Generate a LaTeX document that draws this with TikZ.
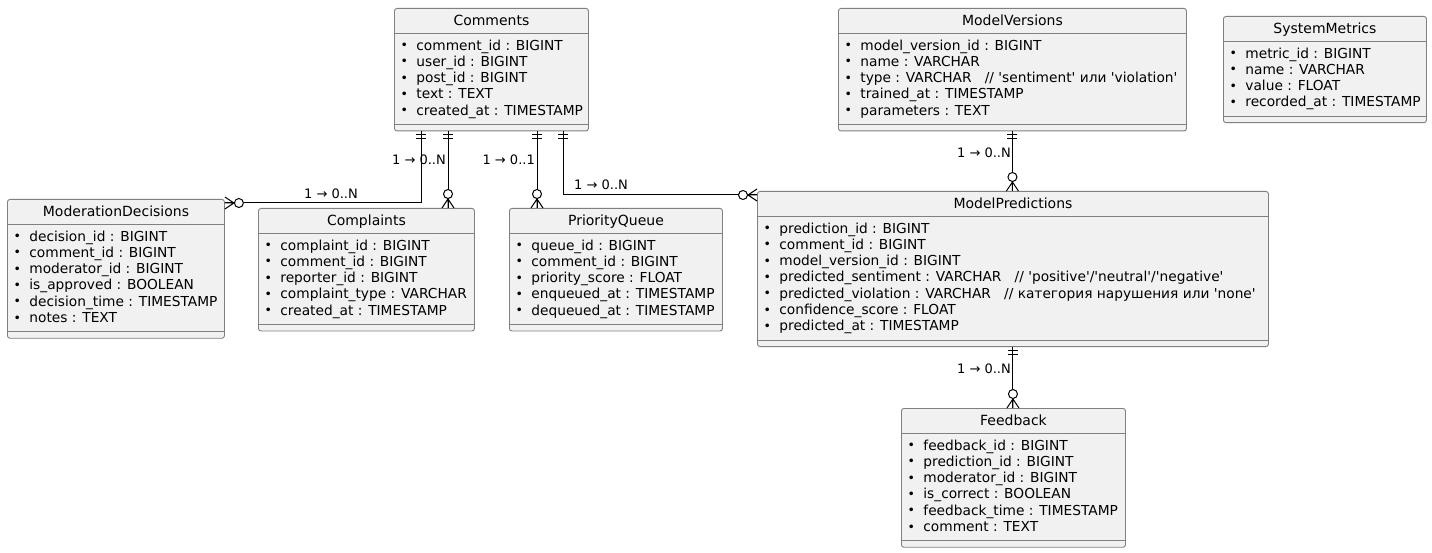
\documentclass[tikz,border=0pt]{standalone}
\usepackage{fontspec}
\setmainfont{DejaVu Sans}
\usepackage{tikz}
\usetikzlibrary{positioning,calc}
\definecolor{entfill}{HTML}{F1F1F1}
\definecolor{entline}{HTML}{808080}
\newcommand{\bl}{\makebox[16.2pt][l]{\hspace{0.4pt}\raisebox{0.4pt}{\fontsize{12.5}{12.5}\selectfont •}}}
\newcommand{\q}{\textquotesingle}
\tikzset{
  entbox/.style={draw=entline,fill=entfill,line width=0.9pt,rounded corners=2.5pt,anchor=north west,inner sep=0pt},
  enttitle/.style={anchor=base,inner sep=0pt,font=\fontsize{14}{16.3}\selectfont},
  attrs/.style={anchor=north west,inner sep=0pt,align=left,font=\fontsize{13.75}{16.3}\selectfont},
  sepline/.style={draw=entline,line width=0.9pt},
  rel/.style={line width=1pt},
  rellabel/.style={inner sep=0pt,font=\fontsize{13}{15}\selectfont},
  onlyone/.pic={\draw[line width=1pt] (3,-5) -- (3,5) (7,-5) -- (7,5);},
  zeromany/.pic={\draw[line width=1pt] (0,-6) -- (9,0) -- (0,6) (0,0) -- (9,0);
    \draw[line width=1pt,fill=white] (14,0) circle (4.5);}
}
\begin{document}
\begin{tikzpicture}[x=1pt,y=-1pt]
\useasboundingbox[fill=white] (0,0) rectangle (1432,553);
\node[entbox,minimum width=194pt,minimum height=122.5pt] (comments) at (394,8) {};
\node[enttitle] (comments-t) at ([yshift=-17.5pt]comments.north) {Comments};
\draw[sepline] ([yshift=-25.5pt]comments.north west) -- ([yshift=-25.5pt]comments.north east);
\node[attrs] (comments-a) at ([xshift=6pt,yshift=-31.4pt]comments.north west) {\bl comment\_id : BIGINT\\\bl user\_id : BIGINT\\\bl post\_id : BIGINT\\\bl text : TEXT\\\bl created\_at : TIMESTAMP};
\draw[sepline] ([yshift=7pt]comments.south west) -- ([yshift=7pt]comments.south east);

\node[entbox,minimum width=348pt,minimum height=122.5pt] (modver) at (838,8) {};
\node[enttitle] (modver-t) at ([yshift=-17.5pt]modver.north) {ModelVersions};
\draw[sepline] ([yshift=-25.5pt]modver.north west) -- ([yshift=-25.5pt]modver.north east);
\node[attrs] (modver-a) at ([xshift=6pt,yshift=-31.4pt]modver.north west) {\bl model\_version\_id : BIGINT\\\bl name : VARCHAR\\\bl type : VARCHAR~~~// \q sentiment\q{} или \q violation\q\\\bl trained\_at : TIMESTAMP\\\bl parameters : TEXT};
\draw[sepline] ([yshift=7pt]modver.south west) -- ([yshift=7pt]modver.south east);

\node[entbox,minimum width=203pt,minimum height=106.2pt] (sysmet) at (1223,16) {};
\node[enttitle] (sysmet-t) at ([yshift=-17.5pt]sysmet.north) {SystemMetrics};
\draw[sepline] ([yshift=-25.5pt]sysmet.north west) -- ([yshift=-25.5pt]sysmet.north east);
\node[attrs] (sysmet-a) at ([xshift=6pt,yshift=-31.4pt]sysmet.north west) {\bl metric\_id : BIGINT\\\bl name : VARCHAR\\\bl value : FLOAT\\\bl recorded\_at : TIMESTAMP};
\draw[sepline] ([yshift=7pt]sysmet.south west) -- ([yshift=7pt]sysmet.south east);

\node[entbox,minimum width=217pt,minimum height=138.8pt] (moddec) at (7,199) {};
\node[enttitle] (moddec-t) at ([yshift=-17.5pt]moddec.north) {ModerationDecisions};
\draw[sepline] ([yshift=-25.5pt]moddec.north west) -- ([yshift=-25.5pt]moddec.north east);
\node[attrs] (moddec-a) at ([xshift=6pt,yshift=-31.4pt]moddec.north west) {\bl decision\_id : BIGINT\\\bl comment\_id : BIGINT\\\bl moderator\_id : BIGINT\\\bl is\_approved : BOOLEAN\\\bl decision\_time : TIMESTAMP\\\bl notes : TEXT};
\draw[sepline] ([yshift=7pt]moddec.south west) -- ([yshift=7pt]moddec.south east);

\node[entbox,minimum width=216pt,minimum height=122.5pt] (compl) at (258,208) {};
\node[enttitle] (compl-t) at ([yshift=-17.5pt]compl.north) {Complaints};
\draw[sepline] ([yshift=-25.5pt]compl.north west) -- ([yshift=-25.5pt]compl.north east);
\node[attrs] (compl-a) at ([xshift=6pt,yshift=-31.4pt]compl.north west) {\bl complaint\_id : BIGINT\\\bl comment\_id : BIGINT\\\bl reporter\_id : BIGINT\\\bl complaint\_type : VARCHAR\\\bl created\_at : TIMESTAMP};
\draw[sepline] ([yshift=7pt]compl.south west) -- ([yshift=7pt]compl.south east);

\node[entbox,minimum width=213pt,minimum height=122.5pt] (prioq) at (509,208) {};
\node[enttitle] (prioq-t) at ([yshift=-17.5pt]prioq.north) {PriorityQueue};
\draw[sepline] ([yshift=-25.5pt]prioq.north west) -- ([yshift=-25.5pt]prioq.north east);
\node[attrs] (prioq-a) at ([xshift=6pt,yshift=-31.4pt]prioq.north west) {\bl queue\_id : BIGINT\\\bl comment\_id : BIGINT\\\bl priority\_score : FLOAT\\\bl enqueued\_at : TIMESTAMP\\\bl dequeued\_at : TIMESTAMP};
\draw[sepline] ([yshift=7pt]prioq.south west) -- ([yshift=7pt]prioq.south east);

\node[entbox,minimum width=511pt,minimum height=155.1pt] (modpred) at (757,191) {};
\node[enttitle] (modpred-t) at ([yshift=-17.5pt]modpred.north) {ModelPredictions};
\draw[sepline] ([yshift=-25.5pt]modpred.north west) -- ([yshift=-25.5pt]modpred.north east);
\node[attrs] (modpred-a) at ([xshift=6pt,yshift=-31.4pt]modpred.north west) {\bl prediction\_id : BIGINT\\\bl comment\_id : BIGINT\\\bl model\_version\_id : BIGINT\\\bl predicted\_sentiment : VARCHAR~~~// \q positive\q/\q neutral\q/\q negative\q\\\bl predicted\_violation : VARCHAR~~~// категория нарушения или \q none\q\\\bl confidence\_score : FLOAT\\\bl predicted\_at : TIMESTAMP};
\draw[sepline] ([yshift=7pt]modpred.south west) -- ([yshift=7pt]modpred.south east);

\node[entbox,minimum width=224pt,minimum height=138.8pt] (feedb) at (901,408) {};
\node[enttitle] (feedb-t) at ([yshift=-17.5pt]feedb.north) {Feedback};
\draw[sepline] ([yshift=-25.5pt]feedb.north west) -- ([yshift=-25.5pt]feedb.north east);
\node[attrs] (feedb-a) at ([xshift=6pt,yshift=-31.4pt]feedb.north west) {\bl feedback\_id : BIGINT\\\bl prediction\_id : BIGINT\\\bl moderator\_id : BIGINT\\\bl is\_correct : BOOLEAN\\\bl feedback\_time : TIMESTAMP\\\bl comment : TEXT};
\draw[sepline] ([yshift=7pt]feedb.south west) -- ([yshift=7pt]feedb.south east);

\draw[rel] ([xshift=27pt]comments.south west) |- ([yshift=-4pt]moddec.north east);
\pic[rotate=-90] at ([xshift=27pt]comments.south west) {onlyone};
\pic at ([yshift=-4pt]moddec.north east) {zeromany};
\node[rellabel,anchor=base] (lab1) at (331,199) {1 → 0..N};

\draw[rel] ([xshift=54pt]comments.south west) -- ([xshift=54pt]comments.south west |- compl.north);
\pic[rotate=-90] at ([xshift=54pt]comments.south west) {onlyone};
\pic[rotate=90] at ([xshift=54pt]comments.south west |- compl.north) {zeromany};
\node[rellabel,anchor=base east] (lab2) at (446,165) {1 → 0..N};

\draw[rel] ([xshift=143pt]comments.south west) -- ([xshift=143pt]comments.south west |- prioq.north);
\pic[rotate=-90] at ([xshift=143pt]comments.south west) {onlyone};
\pic[rotate=90] at ([xshift=143pt]comments.south west |- prioq.north) {zeromany};
\node[rellabel,anchor=base east] (lab3) at (535,165) {1 → 0..1};

\draw[rel] ([xshift=169pt]comments.south west) |- ([yshift=-4pt]modpred.north west);
\pic[rotate=-90] at ([xshift=169pt]comments.south west) {onlyone};
\pic[rotate=180] at ([yshift=-4pt]modpred.north west) {zeromany};
\node[rellabel,anchor=base west] (lab4) at (574,190) {1 → 0..N};

\draw[rel] (modver.south) -- (modver.south |- modpred.north);
\pic[rotate=-90] at (modver.south) {onlyone};
\pic[rotate=90] at (modver.south |- modpred.north) {zeromany};
\node[rellabel,anchor=base east] (lab5) at (1011,158) {1 → 0..N};

\draw[rel] (modpred.south) -- (modpred.south |- feedb.north);
\pic[rotate=-90] at (modpred.south) {onlyone};
\pic[rotate=90] at (modpred.south |- feedb.north) {zeromany};
\node[rellabel,anchor=base east] (lab6) at (1011,373) {1 → 0..N};
\end{tikzpicture}
\end{document}
